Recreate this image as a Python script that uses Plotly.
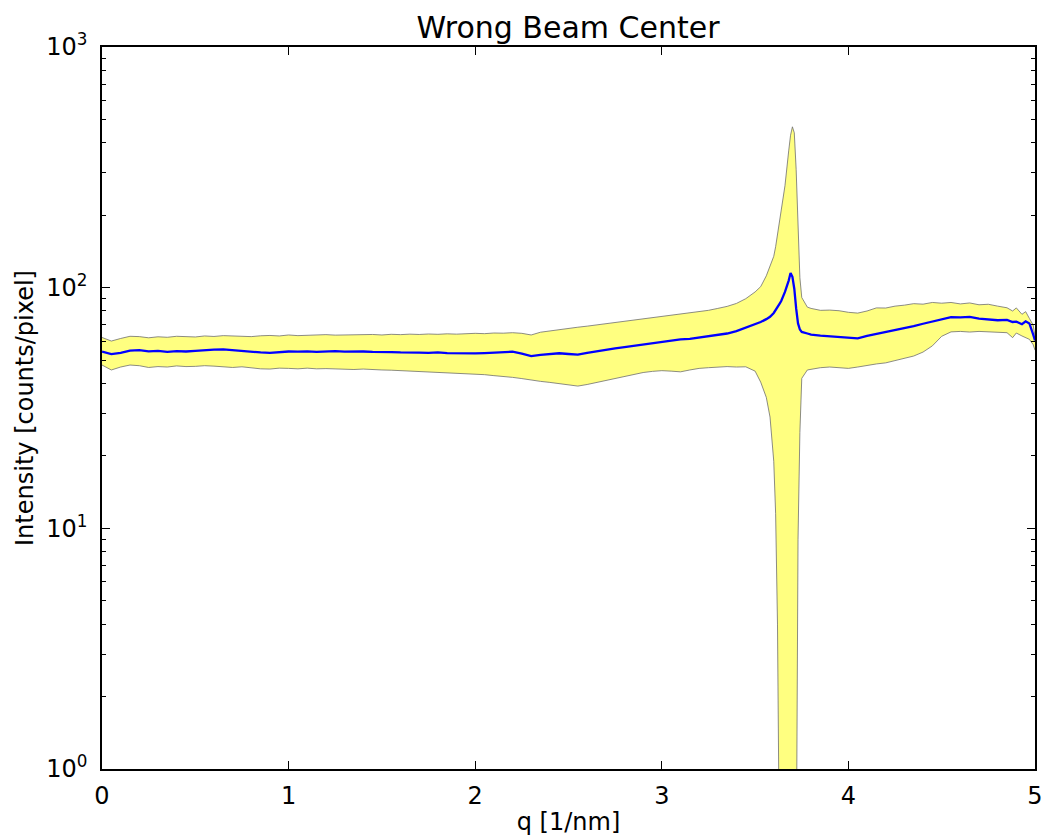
import plotly.graph_objects as go

# ---------------- data ----------------
q = [0.00, 0.05, 0.10, 0.15, 0.20, 0.25, 0.30, 0.35, 0.40, 0.45,
     0.50, 0.55, 0.60, 0.65, 0.70, 0.75, 0.80, 0.85, 0.90, 0.95,
     1.00, 1.05, 1.10, 1.15, 1.20, 1.25, 1.30, 1.35, 1.40, 1.45,
     1.50, 1.55, 1.60, 1.65, 1.70, 1.75, 1.80, 1.85, 1.90, 1.95,
     2.00, 2.05, 2.10, 2.15, 2.20, 2.25, 2.30, 2.35, 2.40, 2.45,
     2.50, 2.55, 2.60, 2.65, 2.70, 2.75, 2.80, 2.85, 2.90, 2.95,
     3.00, 3.05, 3.10, 3.15, 3.20, 3.25, 3.30, 3.35, 3.40, 3.45,
     3.50, 3.53, 3.56, 3.58, 3.60, 3.61, 3.62, 3.63, 3.64, 3.66, 3.68,
     3.69, 3.70, 3.71, 3.72, 3.725, 3.73, 3.74, 3.75, 3.78, 3.80,
     3.85, 3.90, 3.95, 4.00, 4.05, 4.10, 4.15, 4.20, 4.25, 4.30,
     4.35, 4.40, 4.45, 4.50, 4.55, 4.60, 4.65, 4.70, 4.75, 4.80,
     4.85, 4.88, 4.90, 4.93, 4.95, 4.97, 4.99, 5.00]

intensity_mean = [
    54.2, 53.0, 53.6, 54.8, 55.0, 54.4, 54.6, 54.1, 54.5, 54.3,
    54.6, 55.0, 55.3, 55.4, 54.9, 54.4, 54.0, 53.8, 53.6, 54.0,
    54.3, 54.2, 54.4, 54.1, 54.3, 54.5, 54.2, 54.4, 54.3, 54.1,
    54.2, 54.0, 53.8, 53.9, 53.7, 53.6, 53.8, 53.5, 53.4, 53.6,
    53.3, 53.5, 53.8, 54.0, 54.2, 53.2, 52.0, 52.6, 53.0, 53.4,
    53.0, 52.7, 53.6, 54.5, 55.3, 56.0, 56.6, 57.3, 58.2, 59.0,
    59.8, 60.4, 61.0, 61.3, 62.1, 62.8, 63.6, 64.5, 66.0, 68.2,
    70.5, 72.0, 74.0, 75.7, 78.5, 80.5, 82.5, 85.5, 88.0, 96.0, 107.0,
    115.0, 111.0, 99.0, 82.0, 76.0, 71.0, 67.0, 65.5, 64.5, 63.8,
    63.2, 62.7, 62.3, 62.0, 61.6, 63.0, 64.2, 65.2, 66.4, 67.6,
    69.2, 70.8, 72.4, 73.9, 75.5, 75.3, 75.6, 74.3, 74.0, 73.2,
    73.5, 72.0, 72.2, 70.5, 72.5, 71.0, 64.0, 60.3]

intensity_upper = [
    62.1, 60.0, 61.5, 62.8, 62.6, 61.9, 62.5, 62.2, 62.8, 62.6,
    62.4, 63.0, 62.7, 63.2, 62.9, 63.0, 62.6, 63.1, 63.3, 63.0,
    63.6, 63.2, 63.5, 63.4, 63.8, 63.5, 63.6, 63.9, 63.7, 63.9,
    63.6, 64.0, 63.8, 64.1, 63.9, 64.2, 64.0, 64.3, 64.1, 64.5,
    64.6, 64.4, 64.8, 64.7, 65.0, 64.6, 63.6, 65.3, 66.2, 66.8,
    67.6, 68.5, 69.2, 70.0, 70.8, 71.5, 72.3, 73.0, 74.0, 74.8,
    75.6, 76.6, 77.5, 78.4, 79.4, 80.5, 82.0, 83.6, 86.0, 90.0,
    96.0, 101.0, 112.0, 122.0, 135.0, 148.0, 165.0, 185.0, 205.0, 265.0, 370.0,
    430.0, 466.0, 440.0, 310.0, 240.0, 190.0, 110.0, 91.0, 83.0, 82.0,
    80.5, 80.7, 80.2, 79.0, 78.4, 80.0, 82.4, 82.3, 83.8, 84.6,
    85.8, 85.4, 86.8, 86.2, 86.8, 85.6, 86.4, 84.9, 85.3, 83.8,
    82.5, 80.0, 82.4, 77.5, 79.5, 74.5, 70.0, 63.0]

intensity_lower = [
    47.7, 45.5, 46.8, 47.7, 47.4, 46.6, 47.0, 46.8, 47.3, 47.0,
    47.1, 47.4, 47.2, 47.0, 46.6, 46.9, 46.4, 46.0, 45.9, 46.3,
    46.2, 46.0, 46.3, 46.0, 46.1, 45.9, 46.0, 45.7, 45.9, 45.6,
    45.5, 45.4, 45.2, 45.0, 45.1, 44.8, 44.6, 44.3, 44.2, 43.9,
    43.7, 43.5, 43.1, 42.8, 42.4, 41.9, 41.2, 40.8, 40.4, 40.0,
    39.5, 39.0, 39.6, 40.4, 41.0, 41.8, 42.6, 43.5, 44.4, 44.9,
    45.2, 45.0, 44.7, 45.5, 46.2, 46.5, 46.9, 47.0, 46.8, 46.9,
    45.0, 40.5, 35.0, 29.0, 19.0, 11.5, 4.0, 0.3, 0.05, 0.05, 0.05,
    0.05, 0.05, 0.05, 0.3, 2.5, 9.0, 25.0, 42.0, 45.5, 45.8,
    46.5, 46.8, 46.4, 46.2, 46.8, 47.6, 48.2, 48.7, 49.8, 50.8,
    52.0, 54.0, 57.3, 62.8, 65.5, 65.8, 65.4, 65.8, 65.5, 65.6,
    65.0, 62.0, 64.8, 63.0, 62.0, 61.0, 58.0, 55.0]

y_tick_vals = [1, 10, 100, 1000]
y_tick_text = ["10<sup>0</sup>", "10<sup>1</sup>", "10<sup>2</sup>", "10<sup>3</sup>"]
y_minor_vals = [2, 3, 4, 5, 6, 7, 8, 9, 20, 30, 40, 50, 60, 70, 80, 90,
                200, 300, 400, 500, 600, 700, 800, 900]
x_tick_vals = [0, 1, 2, 3, 4, 5]

FONT = "DejaVu Sans"

fig = go.Figure()
fig.add_trace(go.Scatter(x=q, y=intensity_upper, mode="lines",
                         line=dict(color="#6e6e6e", width=0.8),
                         hoverinfo="skip", showlegend=False))
fig.add_trace(go.Scatter(x=q, y=intensity_lower, mode="lines",
                         line=dict(color="#6e6e6e", width=0.8),
                         fill="tonexty", fillcolor="#ffff80",
                         hoverinfo="skip", showlegend=False))
fig.add_trace(go.Scatter(x=q, y=intensity_mean, mode="lines",
                         line=dict(color="#0000ff", width=2.3),
                         showlegend=False))

fig.update_layout(
    width=1045, height=836,
    margin=dict(l=102, r=10, t=47, b=67),
    paper_bgcolor="white", plot_bgcolor="white",
    font=dict(family=FONT, size=24, color="black"),
    title=dict(text="Wrong Beam Center", x=0.5435, xanchor="center",
               y=1 - 27 / 836, yanchor="middle", yref="container",
               font=dict(family=FONT, size=30, color="black")),
)
fig.update_xaxes(
    range=[0, 5], tickvals=x_tick_vals, ticks="inside", ticklen=8,
    tickwidth=1, tickcolor="black", showline=True, linecolor="black",
    linewidth=1.5, mirror="ticks", showgrid=False, zeroline=False,
    tickfont=dict(family=FONT, size=24), ticklabelstandoff=4,
    title=dict(text="q [1/nm]", standoff=10, font=dict(family=FONT, size=24)),
    automargin=False,
)
fig.update_yaxes(
    type="log", range=[0, 3], tickvals=y_tick_vals, ticktext=y_tick_text,
    ticks="inside", ticklen=8, tickwidth=1, tickcolor="black",
    minor=dict(tickvals=y_minor_vals, ticks="inside", ticklen=4,
               tickcolor="black", tickwidth=1, showgrid=False),
    showline=True, linecolor="black", linewidth=1.5, mirror="ticks",
    showgrid=False, zeroline=False,
    tickfont=dict(family=FONT, size=24), ticklabelstandoff=8,
    title=dict(text="Intensity [counts/pixel]", standoff=6,
               font=dict(family=FONT, size=24)),
    automargin=False,
)

fig.write_html("out.html")
